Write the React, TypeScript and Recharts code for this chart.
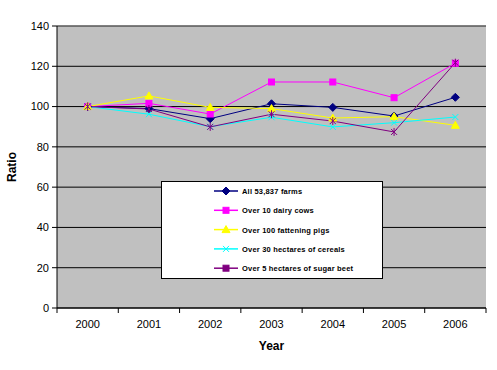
import React from 'react';
import { LineChart, Line, XAxis, YAxis, CartesianGrid, Legend, ReferenceLine } from 'recharts';

const years = ['2000', '2001', '2002', '2003', '2004', '2005', '2006'];
const allFarms = [100, 99, 94, 101.4, 99.6, 95.3, 104.6];
const dairyCows = [100, 101.6, 96.3, 112.2, 112.2, 104.4, 121.5];
const fatteningPigs = [100, 105.3, 99.6, 99, 94.3, 95, 90.7];
const cereals = [100, 96.2, 90, 94.7, 89.9, 92, 94.8];
const sugarBeet = [100, 98.8, 89.9, 96.2, 92.8, 87.4, 121.8];
const yTicks = [0, 20, 40, 60, 80, 100, 120, 140];

const seriesNames = [
  'All 53,837 farms',
  'Over 10 dairy cows',
  'Over 100 fattening pigs',
  'Over 30 hectares of cereals',
  'Over 5 hectares of sugar beet',
];

const data = years.map((y, i) => ({
  year: y,
  a: allFarms[i],
  b: dairyCows[i],
  c: fatteningPigs[i],
  d: cereals[i],
  e: sugarBeet[i],
}));

const W = 497;
const H = 370;
const M = { top: 26, right: 11, left: 0, bottom: 0 };
const YW = 57;
const XH = 62;
const PLOT_W = W - M.left - M.right - YW;
const STEP = PLOT_W / years.length;

const FONT = 'Liberation Sans, Arial, sans-serif';

const Diamond = (color: string) => (p: any) => {
  const { cx, cy } = p;
  if (cx == null || cy == null) return <g />;
  const r = 4;
  return <path d={`M${cx},${cy - r}L${cx + r},${cy}L${cx},${cy + r}L${cx - r},${cy}Z`} fill={color} stroke={color} />;
};
const Square = (color: string) => (p: any) => {
  const { cx, cy } = p;
  if (cx == null || cy == null) return <g />;
  return <rect x={cx - 3} y={cy - 3} width={6} height={6} fill={color} stroke={color} />;
};
const Triangle = (color: string) => (p: any) => {
  const { cx, cy } = p;
  if (cx == null || cy == null) return <g />;
  return <path d={`M${cx},${cy - 4}L${cx + 4},${cy + 3}L${cx - 4},${cy + 3}Z`} fill={color} stroke={color} />;
};
const Cross = (color: string) => (p: any) => {
  const { cx, cy } = p;
  if (cx == null || cy == null) return <g />;
  const r = 3;
  return <path d={`M${cx - r},${cy - r}L${cx + r},${cy + r}M${cx + r},${cy - r}L${cx - r},${cy + r}`} stroke={color} strokeWidth={1} fill="none" />;
};
const Star = (color: string) => (p: any) => {
  const { cx, cy } = p;
  if (cx == null || cy == null) return <g />;
  const r = 3;
  return <path d={`M${cx - r},${cy - r}L${cx + r},${cy + r}M${cx + r},${cy - r}L${cx - r},${cy + r}M${cx},${cy - r - 1}L${cx},${cy + r + 1}`} stroke={color} strokeWidth={1} fill="none" />;
};

const colors = ['#000080', '#FF00FF', '#FFFF00', '#00FFFF', '#800080'];
const keys = ['a', 'b', 'c', 'd', 'e'];
const markers = [Diamond, Square, Triangle, Cross, Star];
const legendMarkers = [Diamond, Square, Triangle, Cross, Square];

const XTick = (p: any) => {
  const { x, y, payload, index } = p;
  const top = y - 8;
  return (
    <g>
      <line x1={x - STEP / 2} x2={x - STEP / 2} y1={top} y2={top + 5} stroke="#000" />
      {index === years.length - 1 && (
        <line x1={x + STEP / 2} x2={x + STEP / 2} y1={top} y2={top + 5} stroke="#000" />
      )}
      <text x={x} y={top + 20} textAnchor="middle" fontFamily={FONT} fontSize={11} fill="#000">
        {payload.value}
      </text>
    </g>
  );
};

const LegendBox = () => (
  <div
    style={{
      width: 222,
      height: 98,
      background: '#fff',
      border: '1px solid #000',
      boxSizing: 'border-box',
      position: 'relative',
    }}
  >
    <svg width={220} height={96} style={{ position: 'absolute', left: 0, top: 0 }}>
      {seriesNames.map((n, i) => {
        const cy = 9 + i * 19.3;
        const M2 = legendMarkers[i](colors[i]);
        return (
          <g key={n}>
            <line x1={52} x2={76} y1={cy} y2={cy} stroke={colors[i]} strokeWidth={1.5} />
            <M2 cx={64} cy={cy} />
            <text x={80} y={cy + 3} fontFamily={FONT} fontSize={7.5} fontWeight="bold" fill="#000" letterSpacing={0.2}>
              {n}
            </text>
          </g>
        );
      })}
    </svg>
  </div>
);

export default function App() {
  return (
    <div style={{ position: 'absolute', left: 0, top: 0, background: '#fff' }}>
      <LineChart width={W} height={H} data={data} margin={M}>
        <CartesianGrid vertical={false} stroke="#000" fill="#C0C0C0" strokeOpacity={1} />
        <XAxis
          dataKey="year"
          height={XH}
          padding={{ left: STEP / 2, right: STEP / 2 }}
          axisLine={{ stroke: '#000' }}
          tickLine={false}
          tick={<XTick />}
          interval={0}
          label={{ value: 'Year', position: 'insideBottom', offset: 20, fontFamily: FONT, fontSize: 12, fontWeight: 'bold', fill: '#000' }}
        />
        <YAxis
          width={YW}
          domain={[0, 140]}
          ticks={yTicks}
          interval={0}
          axisLine={{ stroke: '#000' }}
          tickLine={{ stroke: '#000' }}
          tickSize={5}
          tickMargin={3}
          tick={{ fontFamily: FONT, fontSize: 11, fill: '#000' }}
          label={{ value: 'Ratio', angle: -90, position: 'insideLeft', offset: 12, fontFamily: FONT, fontSize: 12, fontWeight: 'bold', fill: '#000', style: { textAnchor: 'middle' } }}
        />
        <YAxis
          yAxisId="r"
          orientation="right"
          width={0}
          domain={[0, 140]}
          tick={false}
          tickLine={false}
          axisLine={{ stroke: '#808080' }}
        />
        <ReferenceLine y={140} stroke="#808080" />
        <Legend
          layout="vertical"
          align="center"
          verticalAlign="middle"
          content={<LegendBox />}
          wrapperStyle={{ position: 'absolute', left: 161, top: 181, width: 222, height: 98 }}
        />
        {keys.map((k, i) => (
          <Line
            key={k}
            type="linear"
            dataKey={k}
            name={seriesNames[i]}
            stroke={colors[i]}
            strokeWidth={1}
            dot={markers[i](colors[i])}
            activeDot={false}
            isAnimationActive={false}
          />
        ))}
      </LineChart>
    </div>
  );
}
